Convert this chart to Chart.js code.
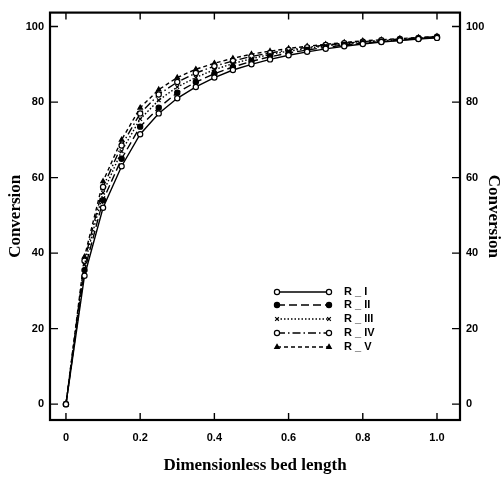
<!DOCTYPE html>
<html>
<head>
<meta charset="utf-8">
<script src="https://cdn.jsdelivr.net/npm/chart.js@4/dist/chart.umd.min.js"></script>
<style>
  html, body { margin: 0; padding: 0; background: #fff; }
  #wrap { width: 504px; height: 478px; position: relative; }
</style>
</head>
<body>
<div id="wrap"><canvas id="c" width="504" height="478"></canvas></div>
<script>
// dimensionless bed length, sampled every 0.05
const bedLength = [0, 0.05, 0.1, 0.15, 0.2, 0.25, 0.3, 0.35, 0.4, 0.45, 0.5,
  0.55, 0.6, 0.65, 0.7, 0.75, 0.8, 0.85, 0.9, 0.95, 1.0];

const convR1 = [0, 34, 52, 63, 71.5, 77, 81, 84, 86.5, 88.5, 90, 91.3, 92.4, 93.3, 94.1, 94.8, 95.4, 95.9, 96.3, 96.7, 97];
const convR2 = [0, 35.5, 54, 65, 73.5, 78.5, 82.5, 85.3, 87.5, 89.3, 90.8, 92, 93, 93.8, 94.5, 95.1, 95.6, 96, 96.4, 96.8, 97.1];
const convR3 = [0, 37, 56, 67, 75.5, 80.5, 84, 86.5, 88.6, 90.2, 91.5, 92.6, 93.5, 94.2, 94.9, 95.4, 95.8, 96.2, 96.5, 96.9, 97.2];
const convR4 = [0, 38, 57.5, 68.5, 77, 82, 85.3, 87.7, 89.5, 90.9, 92.1, 93, 93.8, 94.5, 95.1, 95.6, 96, 96.4, 96.7, 97, 97.3];
const convR5 = [0, 39, 59, 70, 78.5, 83.3, 86.5, 88.7, 90.3, 91.6, 92.7, 93.5, 94.2, 94.8, 95.3, 95.8, 96.2, 96.5, 96.8, 97.1, 97.4];

const seriesLabels = ['R _ I', 'R _ II', 'R _ III', 'R _ IV', 'R _ V'];
const xTicks = [0, 0.2, 0.4, 0.6, 0.8, 1.0];
const yTicks = [0, 20, 40, 60, 80, 100];

const styles = [
  { dash: [], point: 'circle', fill: '#fff' },
  { dash: [8, 4], point: 'circle', fill: '#000' },
  { dash: [1.5, 2], point: 'crossRot', fill: '#000' },
  { dash: [8, 3, 1.5, 3], point: 'circle', fill: '#fff' },
  { dash: [4, 3], point: 'triangle', fill: '#000' }
];

const allSeries = [convR1, convR2, convR3, convR4, convR5];

const datasets = allSeries.map((vals, i) => ({
  label: seriesLabels[i],
  data: vals.map((v, j) => ({ x: bedLength[j], y: v })),
  borderColor: '#000',
  borderWidth: 1.4,
  borderDash: styles[i].dash,
  pointStyle: styles[i].point,
  pointRadius: 2.6,
  pointBorderWidth: 1.2,
  pointBorderColor: '#000',
  pointBackgroundColor: styles[i].fill,
  tension: 0,
  yAxisID: 'y'
}));

// frame + inward ticks on all four sides
const framePlugin = {
  id: 'frame',
  afterDraw(chart) {
    const ctx = chart.ctx;
    const a = chart.chartArea;
    const xs = chart.scales.x, ys = chart.scales.y;
    ctx.save();
    ctx.strokeStyle = '#000';
    ctx.lineWidth = 2.2;
    ctx.strokeRect(a.left, a.top, a.right - a.left, a.bottom - a.top);
    ctx.lineWidth = 1.4;
    ctx.beginPath();
    xTicks.forEach(t => {
      const px = xs.getPixelForValue(t);
      ctx.moveTo(px, a.bottom); ctx.lineTo(px, a.bottom - 7);
      ctx.moveTo(px, a.top); ctx.lineTo(px, a.top + 7);
    });
    yTicks.forEach(t => {
      const py = ys.getPixelForValue(t);
      ctx.moveTo(a.left, py); ctx.lineTo(a.left + 8, py);
      ctx.moveTo(a.right, py); ctx.lineTo(a.right - 8, py);
    });
    ctx.stroke();
    ctx.restore();
  }
};

// hand-drawn legend box inside the plot
const legendPlugin = {
  id: 'sampleLegend',
  afterDraw(chart) {
    const ctx = chart.ctx;
    const x0 = 277, x1 = 329, tx = 344;
    const rowY = [292, 305, 319, 333, 347];
    ctx.save();
    ctx.font = 'bold 11px "Liberation Sans", Arial, sans-serif';
    ctx.textBaseline = 'middle';
    ctx.fillStyle = '#000';
    rowY.forEach((y, i) => {
      const st = styles[i];
      ctx.strokeStyle = '#000';
      ctx.lineWidth = 1.4;
      ctx.setLineDash(st.dash);
      ctx.beginPath();
      ctx.moveTo(x0, y); ctx.lineTo(x1, y);
      ctx.stroke();
      ctx.setLineDash([]);
      const opts = { pointStyle: st.point, radius: 2.6, borderWidth: 1.2 };
      [x0, x1].forEach(px => {
        ctx.fillStyle = st.fill;
        ctx.strokeStyle = '#000';
        ctx.lineWidth = 1.2;
        Chart.helpers.drawPoint(ctx, opts, px, y);
      });
      ctx.fillStyle = '#000';
      ctx.fillText(seriesLabels[i], tx, y);
    });
    ctx.restore();
  }
};

const tickFont = { family: '"Liberation Sans", Arial, sans-serif', size: 11, weight: 'bold' };
const titleFont = { family: '"Liberation Serif", "Times New Roman", serif', size: 17, weight: 'bold' };

new Chart(document.getElementById('c'), {
  type: 'line',
  data: { datasets: datasets },
  plugins: [framePlugin, legendPlugin],
  options: {
    responsive: false,
    animation: false,
    layout: { padding: { top: 10, left: 0, right: 0, bottom: 0 } },
    plugins: { legend: { display: false }, tooltip: { enabled: false } },
    scales: {
      x: {
        type: 'linear',
        min: -0.043,
        max: 1.062,
        afterBuildTicks: s => { s.ticks = xTicks.map(v => ({ value: v })); },
        afterFit: s => { s.height = 58; },
        grid: { display: false, drawTicks: false },
        border: { display: false },
        ticks: {
          color: '#000', font: tickFont, padding: 11,
          callback: v => (v === 0 ? '0' : v.toFixed(1))
        },
        title: { display: true, text: 'Dimensionless bed length', color: '#000', font: titleFont, padding: { top: 4, bottom: 2 } }
      },
      y: {
        position: 'left',
        min: -4.2,
        max: 103.7,
        afterBuildTicks: s => { s.ticks = yTicks.map(v => ({ value: v })); },
        afterFit: s => { s.width = 50; },
        grid: { display: false, drawTicks: false },
        border: { display: false },
        ticks: { color: '#000', font: tickFont, padding: 6 },
        title: { display: true, text: 'Conversion', color: '#000', font: titleFont, padding: { top: 5, bottom: 4 } }
      },
      y2: {
        position: 'right',
        min: -4.2,
        max: 103.7,
        afterBuildTicks: s => { s.ticks = yTicks.map(v => ({ value: v })); },
        afterFit: s => { s.width = 44; },
        grid: { display: false, drawTicks: false },
        border: { display: false },
        ticks: { color: '#000', font: tickFont, padding: 6 },
        title: { display: true, text: 'Conversion', color: '#000', font: titleFont, padding: { top: 0, bottom: 2 } }
      }
    }
  }
});
</script>
</body>
</html>
